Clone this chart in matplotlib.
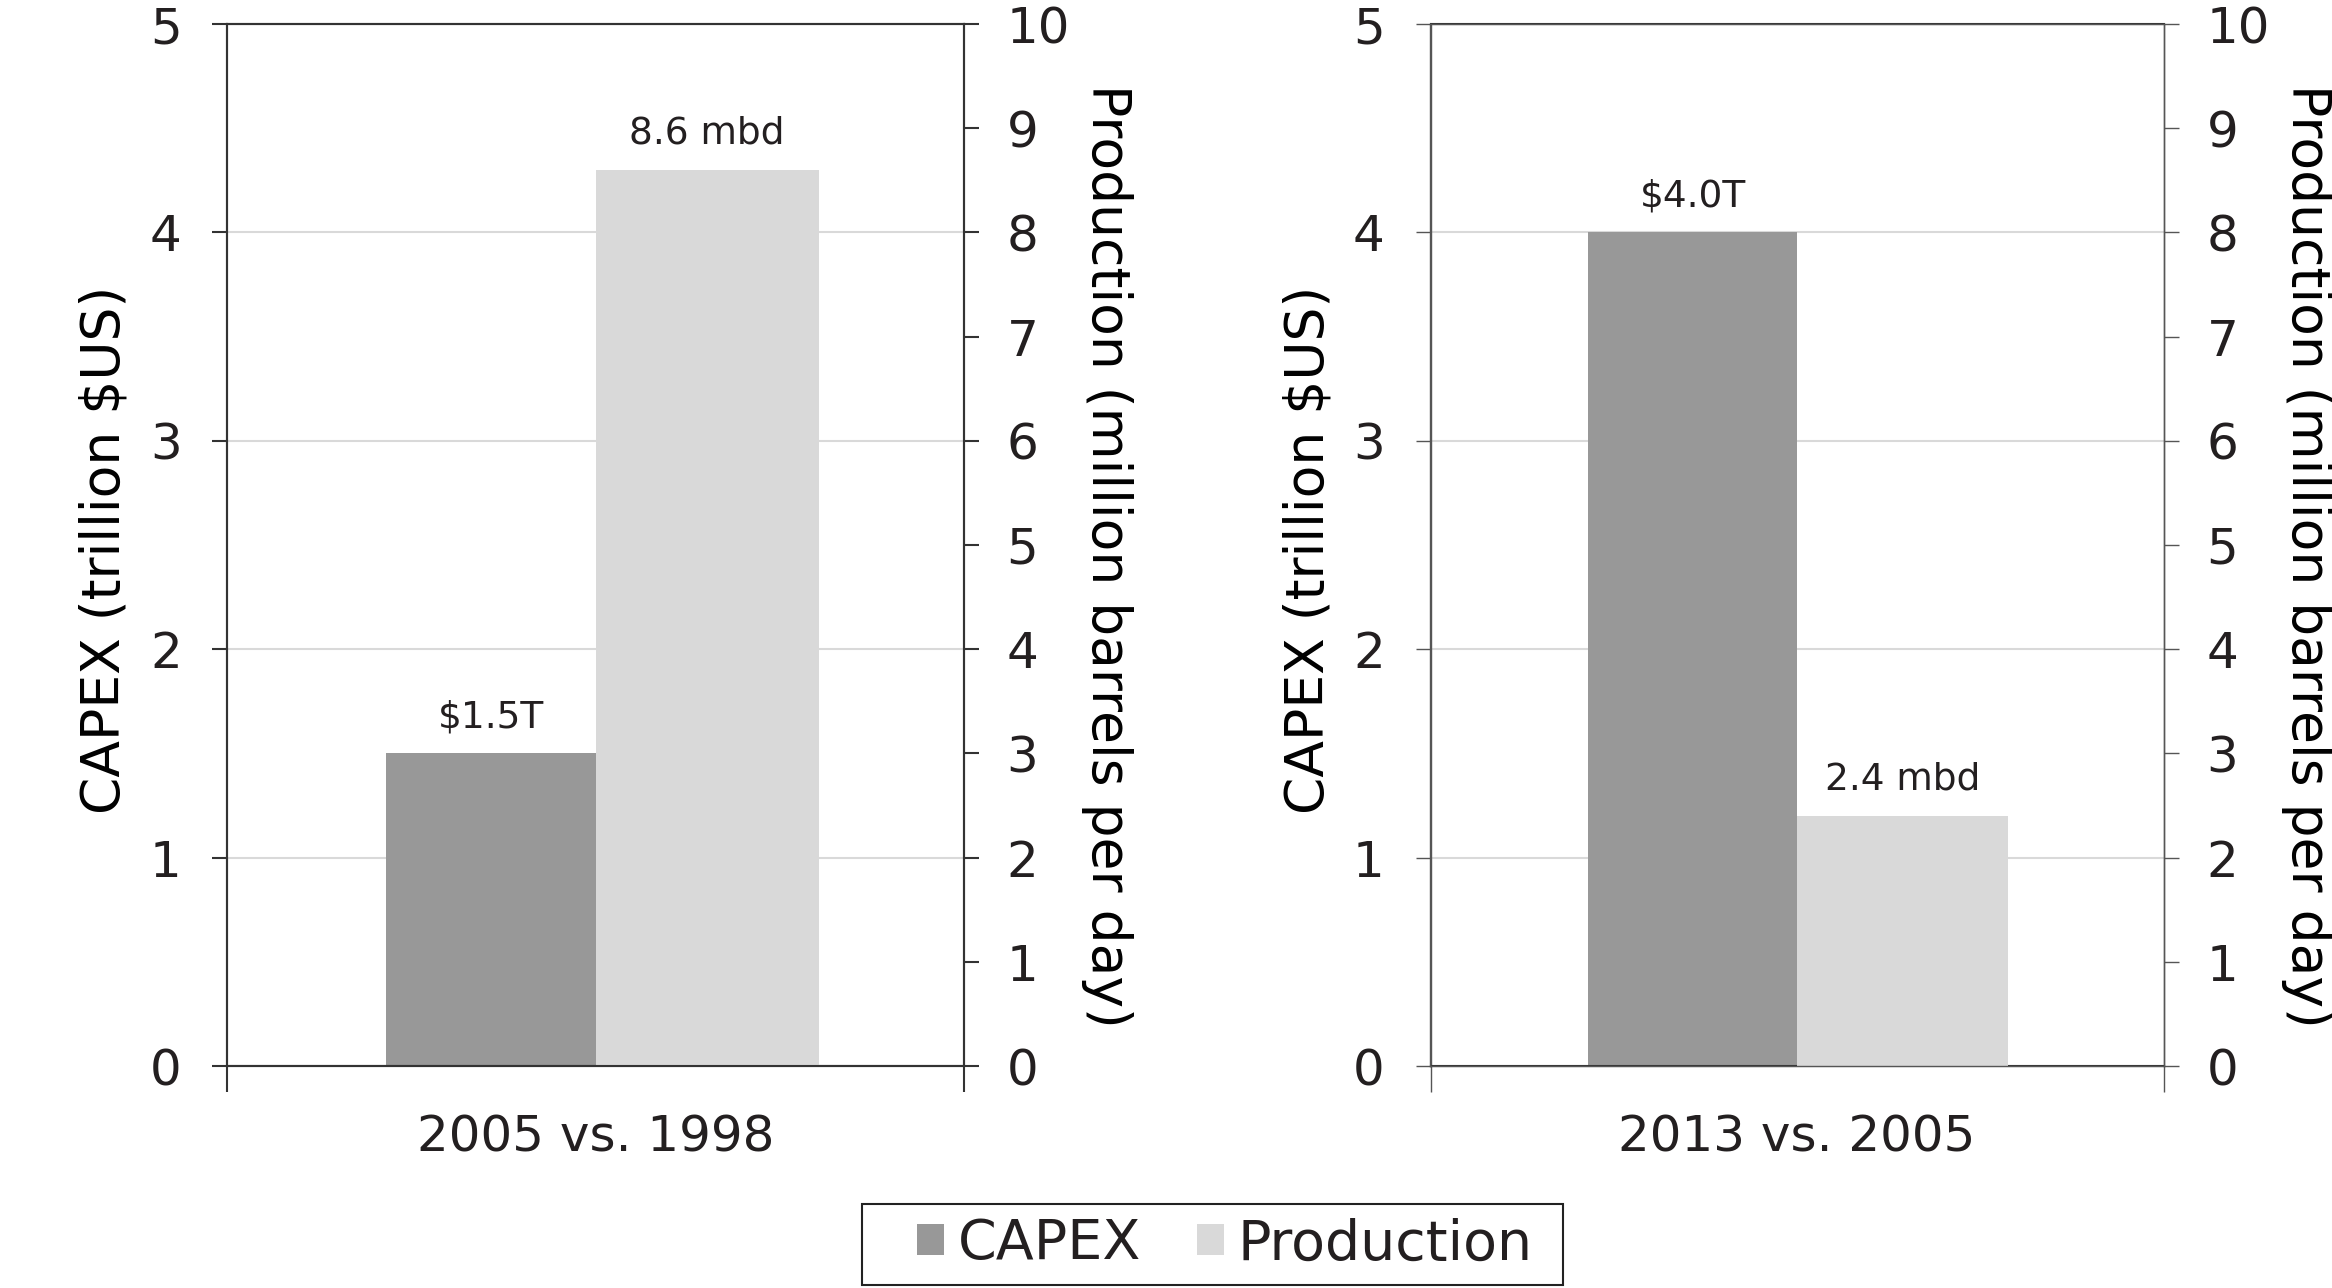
import matplotlib
matplotlib.use("Agg")
import matplotlib.pyplot as plt
from matplotlib.patches import Patch, Rectangle

# data
periods = ["2005 vs. 1998", "2013 vs. 2005"]
capex = [1.5, 4.0]          # trillion $US
production = [8.6, 2.4]     # million barrels per day
capex_labels = ["$1.5T", "$4.0T"]
prod_labels = ["8.6 mbd", "2.4 mbd"]
capex_ticks = [0, 1, 2, 3, 4, 5]
prod_ticks = list(range(0, 11))

CAPEX_COLOR = "#989898"
PROD_COLOR = "#d9d9d9"
TEXT = "#231f20"
GRID = "#d9d9d9"

plt.rcParams["font.family"] = ["DejaVu Sans"]
plt.rcParams["text.color"] = TEXT

fig = plt.figure(figsize=(23.32, 12.88), dpi=100)

W, H = 2332, 1288
panels = [(227.5, 963.6), (1430.5, 2163.6)]
top_px, bot_px = 24, 1066
spine_w = [1.5, 1.0]
spine_c = ["#333333", "#555555"]
bar_w = [(0.285, 0.303), (0.285, 0.288)]

for i, (x0, x1) in enumerate(panels):
    ax = fig.add_axes([x0 / W, 1 - bot_px / H, (x1 - x0) / W, (bot_px - top_px) / H])
    ax2 = ax.twinx()

    ax.set_xlim(-0.5, 0.5)
    ax.set_ylim(0, 5)
    ax2.set_ylim(0, 10)

    ax.set_axisbelow(True)
    ax.yaxis.grid(True, color=GRID, lw=1.5)
    ax.set_yticks(capex_ticks)
    ax2.set_yticks(prod_ticks)

    # capex on the left scale, production on the right one
    wc, wp = bar_w[i]
    ax.bar(-wc / 2, capex[i], width=wc, color=CAPEX_COLOR, zorder=2)
    ax2.bar(wp / 2, production[i], width=wp, color=PROD_COLOR, zorder=2)

    ax.annotate(capex_labels[i], (-wc / 2, capex[i]), xytext=(0, 26),
                textcoords="offset points", ha="center", va="center", fontsize=27)
    ax2.annotate(prod_labels[i], (wp / 2, production[i]), xytext=(0, 26),
                 textcoords="offset points", ha="center", va="center", fontsize=27)

    # category ticks at the edges, label in the middle
    ax.set_xticks([-0.5, 0.5])
    ax.set_xticklabels([])
    ax.set_xticks([0], minor=True)
    ax.set_xticklabels([periods[i]], minor=True, fontsize=36)
    ax.tick_params(axis="x", which="major", length=19, width=spine_w[i], color=spine_c[i], direction="out")
    ax.tick_params(axis="x", which="minor", length=0, pad=34, labelcolor=TEXT)

    ax.tick_params(axis="y", length=11, width=spine_w[i], color=spine_c[i], pad=22,
                   labelsize=36, labelcolor=TEXT)
    ax2.tick_params(axis="y", length=11, width=spine_w[i], color=spine_c[i], pad=20,
                    labelsize=36, labelcolor=TEXT)

    for a in (ax, ax2):
        for s in a.spines.values():
            s.set_color(spine_c[i])
            s.set_linewidth(spine_w[i])
    ax.spines["top"].set_color("#333333")
    ax.spines["bottom"].set_color("#333333")
    ax.spines["top"].set_linewidth(1.5)
    ax.spines["bottom"].set_linewidth(1.5)

    ax.set_ylabel("CAPEX (trillion $US)", fontsize=38.5, rotation=90, va="center", ha="center")
    ax.yaxis.set_label_coords(-0.167, 0.495)
    ax2.set_ylabel("Production (million barrels per day)", fontsize=38.5, rotation=-90,
                   va="center", ha="center")
    ax2.yaxis.set_label_coords(1.195, 0.49)

# legend with its own box
handles = [Patch(facecolor=CAPEX_COLOR, edgecolor="none", label="CAPEX"),
           Patch(facecolor=PROD_COLOR, edgecolor="none", label="Production")]
fig.legend(handles=handles, loc="center", bbox_to_anchor=(1225 / W, 1 - 1244.5 / H),
           ncol=2, frameon=False, fontsize=40, handlelength=0.48, handleheight=0.48,
           handletextpad=0.25, columnspacing=1.0)
fig.add_artist(Rectangle((862 / W, 1 - 1285 / H), (1563 - 862) / W, 81 / H,
                         transform=fig.transFigure, fill=False, edgecolor="#222222", lw=1.5))

fig.savefig("out.png", dpi=100)
